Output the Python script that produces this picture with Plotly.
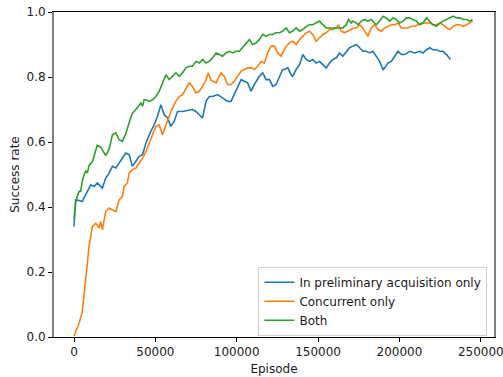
import plotly.graph_objects as go

# ---- data ----
series_names = ["In preliminary acquisition only", "Concurrent only", "Both"]
series_colors = ["#1f77b4", "#ff7f0e", "#2ca02c"]

blue_x = [0, 1000, 3100, 5100, 8200, 10300, 12300, 14300, 17400, 19500, 21600, 23600, 25700, 27700,
          29700, 31800, 33900, 35900, 38000, 40000, 42100, 44200, 47200, 49300, 51300, 53400, 55400,
          57500, 59500, 61600, 63600, 66700, 69800, 72800, 74900, 77000, 79000, 81100, 83100, 85200,
          88200, 91300, 94400, 96500, 98500, 100600, 102700, 104700, 106700, 108800, 110800, 113900,
          116000, 118000, 120100, 122100, 124200, 126200, 128300, 129300, 131400, 133400, 134400,
          136500, 138600, 140600, 142700, 144700, 146700, 148800, 150900, 152900, 155000, 157000,
          159100, 161200, 163200, 165200, 167300, 169300, 171400, 173500, 175500, 177500, 179600,
          181700, 183700, 185800, 187800, 189900, 190900, 192900, 195000, 197100, 199100, 201200,
          203200, 206300, 209400, 212500, 214500, 216600, 218600, 220600, 222700, 224800, 226800,
          228900, 230900, 231400]
blue_y = [0.34, 0.422, 0.42, 0.417, 0.448, 0.468, 0.463, 0.474, 0.458, 0.489, 0.504, 0.525, 0.52, 0.535,
          0.551, 0.566, 0.561, 0.525, 0.54, 0.556, 0.561, 0.597, 0.633, 0.653, 0.679, 0.715, 0.684,
          0.674, 0.648, 0.664, 0.694, 0.694, 0.697, 0.7, 0.694, 0.684, 0.674, 0.725, 0.74, 0.74,
          0.746, 0.736, 0.725, 0.725, 0.746, 0.771, 0.792, 0.787, 0.782, 0.756, 0.777, 0.802,
          0.813, 0.792, 0.792, 0.771, 0.777, 0.80, 0.823, 0.823, 0.828, 0.807, 0.802,
          0.823, 0.838, 0.869, 0.854, 0.848, 0.854, 0.843, 0.848, 0.838, 0.828, 0.843,
          0.854, 0.859, 0.874, 0.864, 0.879, 0.89, 0.895, 0.9, 0.89, 0.879, 0.879,
          0.874, 0.879, 0.864, 0.848, 0.823, 0.828, 0.843, 0.848, 0.864, 0.879, 0.869,
          0.869, 0.879, 0.874, 0.879, 0.874, 0.884, 0.89, 0.884, 0.884, 0.879, 0.879,
          0.869, 0.859, 0.854]

orange_x = [0, 1000, 3100, 5100, 6200, 7200, 8200, 9200, 10300, 11300, 13400, 15400, 16400, 17400,
            19500, 21600, 23600, 25700, 27700, 29700, 30800, 32800, 33900, 35900, 38000, 40000, 42100,
            44200, 46200, 48200, 50300, 52300, 54400, 56500, 58500, 60500, 62600, 64700, 66700, 68800,
            70800, 72800, 74900, 77000, 79000, 81100, 82500, 84200, 85200, 87300, 90300, 92400, 94400,
            96500, 98500, 100600, 102700, 104700, 106700, 108800, 110800, 112900, 115000, 117000,
            119000, 121100, 123200, 125200, 127300, 128300, 130400, 132400, 134400, 136500, 138600,
            140600, 142700, 144700, 146700, 148800, 150900, 152900, 155000, 157000, 159100, 161200,
            162600, 164200, 166300, 168300, 170400, 171800, 173500, 175500, 177500, 179600, 180600,
            182700, 184700, 186800, 188900, 190900, 192900, 195000, 197100, 199100, 201200, 203200,
            205200, 207300, 209400, 211400, 213500, 214900, 216600, 218600, 220600, 222700, 224800,
            226800, 228900, 230900, 233000, 235100, 237100, 239100, 241200, 243200, 244900]
orange_y = [0.003, 0.016, 0.042, 0.078, 0.124, 0.176, 0.227, 0.278, 0.314, 0.34, 0.35, 0.335, 0.355, 0.33,
            0.386, 0.397, 0.391, 0.386, 0.422, 0.432, 0.463, 0.474, 0.504, 0.515, 0.52, 0.535, 0.55,
            0.571, 0.597, 0.617, 0.648, 0.653, 0.622, 0.653, 0.679, 0.705, 0.725, 0.74, 0.746, 0.766,
            0.782, 0.771, 0.751, 0.756, 0.771, 0.792, 0.813, 0.79, 0.787, 0.782, 0.813, 0.802, 0.777,
            0.777, 0.787, 0.802, 0.818, 0.823, 0.828, 0.828, 0.823, 0.833, 0.848, 0.843,
            0.874, 0.895, 0.895, 0.874, 0.864, 0.875, 0.895, 0.905, 0.91, 0.9, 0.915,
            0.925, 0.936, 0.941, 0.931, 0.91, 0.92, 0.931, 0.936, 0.946, 0.946, 0.951,
            0.961, 0.941, 0.936, 0.941, 0.946, 0.951, 0.951, 0.961, 0.951, 0.931, 0.925,
            0.951, 0.961, 0.946, 0.941, 0.951, 0.956, 0.961, 0.961, 0.966, 0.951, 0.951,
            0.951, 0.956, 0.956, 0.961, 0.966, 0.966, 0.966, 0.966, 0.961, 0.961, 0.966,
            0.961, 0.951, 0.946, 0.956, 0.961, 0.961, 0.956, 0.961, 0.966, 0.972]

green_x = [0, 1000, 2000, 3100, 4100, 5100, 6200, 7200, 8200, 9200, 11300, 13400, 14300, 16400, 17400,
           19500, 21600, 23600, 25700, 27700, 29700, 31800, 33900, 35900, 38000, 40000, 41100, 42100,
           43100, 44200, 46200, 48200, 50300, 52300, 54400, 56500, 58500, 60500, 62600, 64700, 66700,
           68800, 70800, 72800, 74900, 77000, 79000, 81100, 83100, 85200, 87300, 89300, 91300, 93400,
           95400, 97500, 99600, 101600, 103600, 105700, 107800, 109800, 111900, 113900, 116000, 118000,
           120100, 122100, 124200, 126200, 128300, 130400, 132400, 134400, 136500, 138600, 140600,
           142700, 144700, 146700, 148800, 150900, 152900, 155000, 157000, 159100, 161200, 163200,
           165200, 167300, 168700, 170400, 171400, 173500, 174500, 176600, 178600, 180600, 182700,
           184700, 185800, 187800, 189900, 191900, 194000, 196000, 198100, 200100, 202200, 204300,
           206300, 208300, 210400, 212500, 214500, 216600, 218600, 220600, 222700, 224800, 226800,
           228900, 230900, 233000, 235100, 237100, 239100, 241200, 243200, 244900]
green_y = [0.366, 0.412, 0.432, 0.448, 0.448, 0.48, 0.499, 0.512, 0.504, 0.527, 0.54, 0.574, 0.59, 0.584, 0.574,
           0.558, 0.578, 0.622, 0.628, 0.607, 0.602, 0.625, 0.66, 0.689, 0.7, 0.715, 0.72, 0.71,
           0.73, 0.73, 0.725, 0.73, 0.74, 0.756, 0.782, 0.807, 0.792, 0.802, 0.813, 0.802, 0.813,
           0.828, 0.833, 0.833, 0.848, 0.843, 0.854, 0.843, 0.848, 0.859, 0.874, 0.869, 0.864, 0.874,
           0.879, 0.874, 0.879, 0.879, 0.89, 0.9, 0.915, 0.9, 0.905, 0.915, 0.931, 0.925,
           0.931, 0.931, 0.936, 0.936, 0.941, 0.951, 0.936, 0.941, 0.951, 0.941, 0.946,
           0.956, 0.961, 0.961, 0.966, 0.972, 0.961, 0.951, 0.951, 0.951, 0.951, 0.951,
           0.951, 0.961, 0.977, 0.966, 0.972, 0.966, 0.961, 0.972, 0.977, 0.972, 0.977,
           0.966, 0.961, 0.972, 0.987, 0.982, 0.972, 0.982, 0.977, 0.966, 0.972, 0.982,
           0.982, 0.977, 0.972, 0.961, 0.966, 0.982, 0.972, 0.961, 0.956, 0.966, 0.972,
           0.977, 0.982, 0.987, 0.982, 0.982, 0.977, 0.977, 0.972, 0.977]

x_tick_vals = [0, 50000, 100000, 150000, 200000, 250000]
x_tick_text = ["0", "50000", "100000", "150000", "200000", "250000"]
y_tick_vals = [0.0, 0.2, 0.4, 0.6, 0.8, 1.0]
y_tick_text = ["0.0", "0.2", "0.4", "0.6", "0.8", "1.0"]
x_label = "Episode"
y_label = "Success rate"

fig = go.Figure()
for name, color, xs, ys in zip(series_names, series_colors,
                               [blue_x, orange_x, green_x], [blue_y, orange_y, green_y]):
    fig.add_trace(go.Scatter(x=xs, y=ys, mode="lines", name=name,
                             line=dict(color=color, width=1.6)))

font = dict(family="DejaVu Sans", size=12, color="#1a1a1a")
fig.update_layout(
    width=503, height=377,
    margin=dict(l=54, r=9, t=12, b=40, autoexpand=False),
    paper_bgcolor="white", plot_bgcolor="white",
    font=font,
    showlegend=True,
    legend=dict(x=0.985, y=0.004, xanchor="right", yanchor="bottom",
                bgcolor="rgba(255,255,255,0.8)", bordercolor="#d0d0d0", borderwidth=1,
                font=font, tracegroupgap=0, itemwidth=30),
    xaxis=dict(range=[-12300, 258100], tickvals=x_tick_vals, ticktext=x_tick_text,
               showgrid=False, zeroline=False, showline=True, linecolor="black", linewidth=1,
               mirror=True, ticks="outside", ticklen=4, tickcolor="black", tickwidth=1,
               automargin=False, ticklabeloverflow="allow",
               title=dict(text=x_label, standoff=6, font=font)),
    yaxis=dict(range=[0, 1], tickvals=y_tick_vals, ticktext=y_tick_text,
               showgrid=False, zeroline=False, showline=True, linecolor="#808080", linewidth=2,
               mirror=True, ticks="outside", ticklen=4, tickcolor="black", tickwidth=1,
               automargin=False, ticklabeloverflow="allow",
               title=dict(text=y_label, standoff=4, font=font)),
)

fig.write_html("out.html")
